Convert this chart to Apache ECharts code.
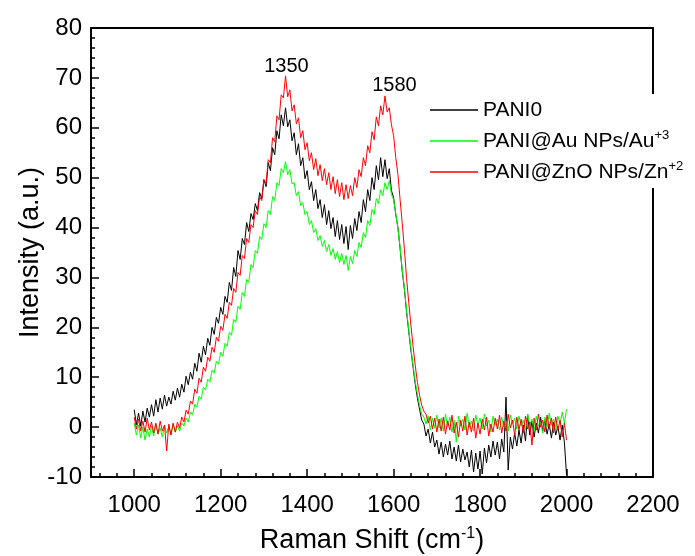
<!DOCTYPE html>
<html>
<head>
<meta charset="utf-8">
<script src="https://cdn.jsdelivr.net/npm/echarts@6/dist/echarts.min.js"></script>
<style>
html,body{margin:0;padding:0;background:#fff;}
#chart{width:695px;height:556px;}
</style>
</head>
<body>
<div id="chart"></div>
<script>
// Raman shift grid: 1000 .. 2000 cm-1, step 5
var shiftStart = 1000;
var shiftStep = 5;

var seriesNames = ['PANI0', 'PANI@Au NPs/Au+3', 'PANI@ZnO NPs/Zn+2'];
var legendLabels = ['PANI0', 'PANI@Au NPs/Au{sup|+3}', 'PANI@ZnO NPs/Zn{sup|+2}'];

var pani0 = [
3.5,0.5,2.8,0.2,3.2,1.0,3.8,2.0,4.5,2.2,5.5,3.0,5.8,3.6,6.4,4.2,6.0,4.6,7.2,5.4,
7.8,6.0,8.6,7.0,10.2,8.5,11.0,9.6,12.8,11.2,14.8,13.0,16.2,14.5,17.8,16.4,20.0,18.6,22.0,20.8,
24.0,22.6,26.2,25.0,29.0,27.4,32.0,30.2,35.4,33.6,37.8,36.6,41.0,39.2,42.8,41.6,44.8,43.4,47.0,45.8,
49.6,48.2,53.0,51.4,56.0,54.6,59.4,57.8,62.6,60.4,64.0,60.2,61.6,57.4,59.0,54.6,56.8,52.4,54.0,49.8,
51.4,47.6,49.2,45.4,47.6,43.8,45.6,42.0,44.6,40.6,43.4,39.8,42.0,38.2,41.4,37.6,40.6,36.8,40.2,35.6,
40.4,37.8,41.8,39.4,43.2,41.0,45.6,43.2,47.6,45.4,50.0,47.6,52.4,49.6,54.0,50.2,53.6,49.8,51.8,47.4,
46.0,42.6,40.0,35.8,31.2,27.6,23.0,19.2,15.4,12.0,8.6,5.8,3.6,1.4,0.6,-1.8,-0.4,-3.2,-1.0,-4.0,
-2.6,-5.4,-3.0,-6.0,-3.4,-5.6,-2.8,-6.4,-4.0,-6.8,-3.6,-7.0,-4.4,-6.6,-5.0,-8.0,-4.6,-9.0,-5.2,-8.4,
-4.8,-9.4,-4.2,-7.2,-3.6,-6.0,-2.8,-5.6,-3.0,-6.4,-2.4,-5.0,6.0,-8.6,-2.0,-4.4,-1.2,-3.8,-0.6,-3.2,
0.4,-2.8,2.6,-1.6,1.2,-2.0,0.8,-1.2,2.0,-0.8,1.4,-1.4,0.6,-2.2,1.0,-1.6,0.2,-2.6,0.4,-3.0,-9.6
];

var paniAu = [
0.8,-1.6,0.4,-2.2,0.0,-2.6,-0.4,-2.0,0.2,-1.8,0.6,-1.4,-0.2,-2.0,0.4,-1.2,0.2,-1.6,0.6,-1.0,
0.2,-0.8,0.8,0.2,1.8,1.0,3.0,2.4,4.6,4.0,6.2,5.6,8.0,7.4,9.6,9.0,11.4,10.8,13.2,12.6,
15.0,14.2,16.8,16.2,19.0,18.4,21.6,21.0,24.2,23.6,27.0,26.2,29.6,29.0,32.6,32.0,35.4,34.8,38.2,37.6,
40.8,40.0,43.4,42.6,46.2,45.4,49.0,48.4,51.8,51.0,53.2,50.6,51.6,48.8,49.0,46.4,47.2,44.4,45.0,42.6,
43.2,40.6,41.4,39.0,39.8,37.4,38.4,36.2,37.4,35.2,36.6,34.4,35.8,33.6,35.2,33.0,34.8,32.6,34.4,31.4,
34.2,32.8,35.4,34.2,37.0,36.0,39.0,38.0,41.4,40.4,43.6,42.6,45.8,44.8,47.6,46.4,49.0,47.6,49.4,46.6,
45.6,42.8,39.8,36.0,31.6,27.8,23.4,19.6,15.8,12.4,9.2,6.6,4.4,2.6,2.0,0.6,2.2,-0.6,1.8,-0.2,
2.4,-0.2,1.8,-0.8,2.6,0.0,2.0,-1.0,1.4,-3.0,2.2,0.2,1.6,-0.6,2.8,0.0,1.2,-0.8,2.4,0.4,
1.8,-0.4,2.6,0.2,1.4,-1.0,2.2,0.4,1.6,-0.6,2.0,0.0,1.2,-0.8,2.4,0.6,1.8,-0.4,2.2,0.2,
1.4,-0.6,2.6,0.4,1.6,-0.8,2.2,0.2,1.0,-1.2,2.0,0.0,2.8,0.4,1.6,-0.6,2.2,0.6,3.0,0.8,3.6
];

var paniZnO = [
2.0,-0.4,1.6,-0.8,1.2,-1.0,1.8,-0.6,1.0,-1.2,0.8,-1.4,1.2,-0.8,0.4,-4.8,0.6,-1.6,0.8,-1.0,
1.0,-0.2,2.0,1.0,3.4,2.6,5.2,4.6,7.6,6.8,9.8,9.0,12.0,11.2,14.0,13.2,16.0,15.0,18.0,17.2,
20.2,19.4,22.6,21.8,25.0,24.4,27.8,27.0,31.0,30.4,34.4,33.8,37.8,37.0,40.6,40.0,43.4,42.6,46.2,45.4,
49.6,48.8,53.6,53.0,58.0,57.2,62.4,61.6,66.6,66.0,70.4,66.2,67.6,63.4,64.6,60.8,62.0,58.0,59.4,55.6,
57.0,53.4,55.0,51.6,53.8,50.4,52.6,49.4,51.8,48.6,51.0,47.6,50.2,46.8,49.6,46.2,49.0,45.6,48.6,45.8,
48.4,46.4,50.0,48.0,51.6,50.2,54.0,52.4,56.4,55.0,59.2,57.6,62.2,60.4,64.4,62.6,66.4,63.2,64.0,60.6,
58.4,54.0,50.6,45.6,40.8,35.6,29.8,25.0,20.4,16.2,12.4,9.0,6.4,4.4,3.2,2.6,0.8,2.2,-0.4,1.8,
-1.0,1.6,-0.8,2.0,-1.4,1.2,-0.6,2.4,-1.2,1.0,-2.0,1.4,-0.8,2.2,-1.6,1.0,-1.0,1.8,-2.2,0.8,
-1.4,1.6,-0.6,2.0,-1.8,0.6,-1.0,1.8,-0.4,2.4,-1.2,1.2,-0.8,2.6,-0.2,1.4,-1.6,2.0,-0.6,1.6,
-1.2,2.2,-0.4,1.0,-3.6,1.8,-0.6,2.6,0.0,1.4,-1.0,2.4,-0.2,1.8,-1.2,2.0,-0.6,1.4,-2.0,0.8,-2.6
];

var xTickLabels = [1000, 1200, 1400, 1600, 1800, 2000, 2200];
var peakLabels = ['1350', '1580'];
var peakLabelPos = [[1352, 72.2], [1602, 68.5]];

function pairs(vals) {
  var out = [];
  for (var i = 0; i < vals.length; i++) out.push([shiftStart + i * shiftStep, vals[i]]);
  return out;
}

var xMinor = [];
for (var v = 920; v < 2200; v += 40) {
  if (xTickLabels.indexOf(v) < 0) xMinor.push(v);
}

var FONT = '"Liberation Sans", Arial, sans-serif';
var chart = echarts.init(document.getElementById('chart'), null, {renderer: 'canvas'});

var frameLine = { show: true, onZero: false, lineStyle: { color: '#000', width: 2 } };

var option = {
  backgroundColor: '#ffffff',
  animation: false,
  grid: {
    left: 91, right: 42, top: 28, bottom: 79,
    outerBoundsMode: 'none', containLabel: false
  },
  legend: {
    orient: 'vertical',
    left: 426, top: 94,
    padding: [4, 20, 4, 4],
    itemWidth: 48, itemHeight: 1.5, itemGap: 7,
    icon: 'rect',
    backgroundColor: '#ffffff',
    data: seriesNames,
    formatter: function (name) { return legendLabels[seriesNames.indexOf(name)]; },
    textStyle: {
      fontFamily: FONT, fontSize: 21, color: '#000', lineHeight: 24,
      rich: { sup: { fontFamily: FONT, fontSize: 13, verticalAlign: 'top', lineHeight: 24, color: '#000' } }
    }
  },
  xAxis: [{
    type: 'value', min: 900, max: 2200, position: 'bottom',
    name: 'Raman Shift (cm{sup|-1})',
    nameLocation: 'middle', nameGap: 49, nameMoveOverlap: false,
    nameTextStyle: {
      fontFamily: FONT, fontSize: 27, color: '#000', lineHeight: 30,
      rich: { sup: { fontFamily: FONT, fontSize: 16, verticalAlign: 'top', lineHeight: 30, color: '#000' } }
    },
    splitLine: { show: false },
    axisLine: frameLine,
    axisTick: { show: true, inside: true, length: 8, lineStyle: { color: '#000', width: 1.5 }, customValues: xTickLabels },
    axisLabel: { show: true, customValues: xTickLabels, fontFamily: FONT, fontSize: 24, color: '#000', margin: 16,
      formatter: function (val) { return String(val); } }
  }, {
    type: 'value', min: 900, max: 2200, position: 'bottom',
    splitLine: { show: false },
    axisLine: { show: false, onZero: false },
    axisTick: { show: true, inside: true, length: 4, lineStyle: { color: '#000', width: 1.5 }, customValues: xMinor },
    axisLabel: { show: false }
  }, {
    type: 'value', min: 900, max: 2200, position: 'top',
    splitLine: { show: false },
    axisLine: frameLine,
    axisTick: { show: false },
    axisLabel: { show: false }
  }],
  yAxis: [{
    type: 'value', min: -10, max: 80, interval: 10, position: 'left',
    name: 'Intensity (a.u.)',
    nameLocation: 'middle', nameGap: 47, nameRotate: 90, nameMoveOverlap: false,
    nameTextStyle: { fontFamily: FONT, fontSize: 27, color: '#000' },
    splitLine: { show: false },
    axisLine: frameLine,
    axisTick: { show: true, inside: true, length: 8, lineStyle: { color: '#000', width: 1.5 } },
    minorTick: { show: true, splitNumber: 5, length: 4, lineStyle: { color: '#000', width: 1.5 } },
    minorSplitLine: { show: false },
    axisLabel: { fontFamily: FONT, fontSize: 24, color: '#000', margin: 9 }
  }, {
    type: 'value', min: -10, max: 80, interval: 10, position: 'right',
    splitLine: { show: false },
    axisLine: frameLine,
    axisTick: { show: false },
    axisLabel: { show: false }
  }],
  series: [{
    name: seriesNames[0], type: 'line', data: pairs(pani0),
    symbol: 'none', lineStyle: { color: '#000000', width: 1 }, itemStyle: { color: '#000000' }
  }, {
    name: seriesNames[1], type: 'line', data: pairs(paniAu),
    symbol: 'none', lineStyle: { color: '#00ff00', width: 1 }, itemStyle: { color: '#00ff00' }
  }, {
    name: seriesNames[2], type: 'line', data: pairs(paniZnO),
    symbol: 'none', lineStyle: { color: '#ff0000', width: 1 }, itemStyle: { color: '#ff0000' },
    markPoint: {
      symbol: 'circle', symbolSize: 1,
      itemStyle: { color: 'rgba(0,0,0,0)' },
      label: { show: true, position: 'inside', fontFamily: FONT, fontSize: 20, color: '#000',
        formatter: function (p) { return p.name; } },
      data: peakLabels.map(function (t, i) { return { name: t, coord: peakLabelPos[i] }; })
    }
  }]
};
chart.setOption(option);
</script>
</body>
</html>
